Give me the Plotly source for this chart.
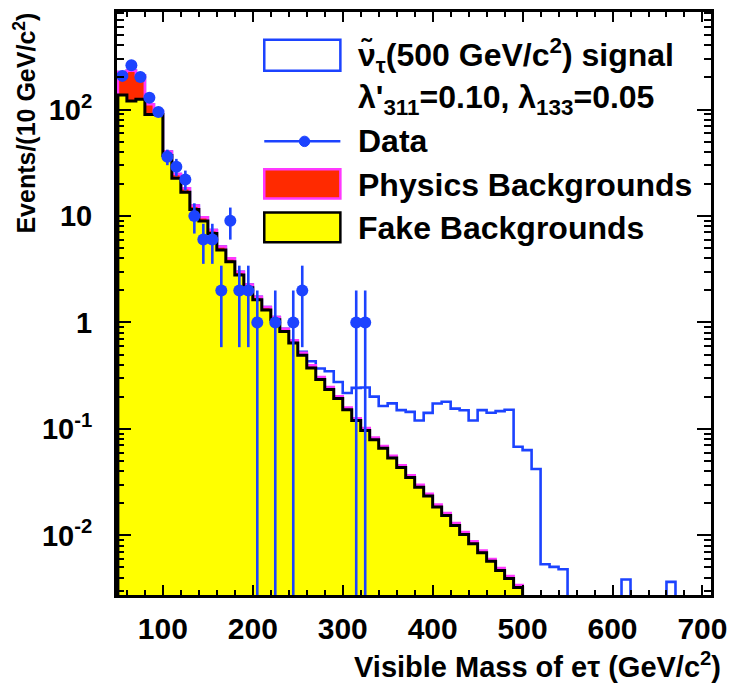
import plotly.graph_objects as go

# ---------------- data ----------------
bin_width = 10
bkg_lo = list(range(50, 500, 10))          # 45 bins, 50..500 GeV
fake_bkg = [137, 120, 125, 90, 90, 36.9, 22.6, 16.7, 11.5, 8.97,
            6.84, 4.79, 3.72, 2.79, 2.12, 1.63, 1.31, 1.06, 0.824, 0.640,
            0.492, 0.374, 0.291, 0.235, 0.193, 0.151, 0.120, 0.0968, 0.0789, 0.0659,
            0.0532, 0.0433, 0.0349, 0.0283, 0.0234, 0.0185, 0.0154, 0.0124, 0.0102, 0.00836,
            0.00686, 0.00571, 0.00468, 0.00394, 0.00324]
phys_bkg = [88, 112, 85, 22, 7, 3.5, 2.2, 1.5, 1.0, 0.75,
            0.55, 0.38, 0.28, 0.20, 0.15, 0.11, 0.085, 0.065, 0.050, 0.038,
            0.028, 0.021, 0.016, 0.012, 0.0098, 0.0077, 0.0061, 0.0049, 0.0040, 0.0033,
            0.0027, 0.0022, 0.0018, 0.0015, 0.0012, 0.00095, 0.00079, 0.00064, 0.00053, 0.00043,
            0.00035, 0.00029, 0.00024, 0.00020, 0.00017]
sig_lo = list(range(50, 700, 10))           # 65 bins, 50..700 GeV
signal = ([0] * 20 +                                                       # 50-240
          [0.01, 0.037, 0.062, 0.101, 0.073, 0.059, 0.117, 0.143, 0.118, 0.095,   # 250-340
           0.118, 0.1045, 0.108, 0.090, 0.117, 0.154, 0.164, 0.142, 0.139, 0.111,  # 350-440
           0.143, 0.136, 0.142, 0.147, 0.0645, 0.0632, 0.042, 0.00536, 0.00506, 0.00481,  # 450-540
           0, 0, 0, 0, 0, 0,                                                # 550-600
           0.00385,                                                         # 610
           0, 0, 0, 0,                                                      # 620-650
           0.00366,                                                         # 660
           0, 0, 0])                                                        # 670-690
data_x = [55, 65, 75, 85, 95, 105, 115, 125, 135, 145, 155, 165, 175, 185, 195,
          205, 225, 245, 255, 315, 325]
data_n = [207, 260, 202, 129, 95, 36, 29, 22, 10, 6, 6, 2, 9, 2, 2,
          1, 1, 1, 2, 1, 1]

x_ticks = [100, 200, 300, 400, 500, 600, 700]
y_ticks = [0.01, 0.1, 1, 10, 100]
y_ticktext = ["10<sup>-2</sup>", "10<sup>-1</sup>", "1", "10", "10<sup>2</sup>"]

legend_labels = ["\u03bd\u0303<sub>\u03c4</sub>(500 GeV/c<sup>2</sup>) signal",
                 "\u03bb'<sub>311</sub>=0.10, \u03bb<sub>133</sub>=0.05",
                 "Data", "Physics Backgrounds", "Fake Backgrounds"]

# ---------------- derived ----------------
FLOOR = 1e-6
total_bkg = [f + p for f, p in zip(fake_bkg, phys_bkg)]
stack_sig = [(total_bkg[i] if i < len(total_bkg) else 0) + s for i, s in enumerate(signal)]


def step(lo, vals):
    x = [lo[0]] + lo + [lo[-1] + bin_width, lo[-1] + bin_width]
    v = [max(a, FLOOR) for a in vals]
    y = [FLOOR] + v + [v[-1], FLOOR]
    return x, y


BLUE = "#1c43ff"
RED = "#ff2a00"
MAG = "#ff38ff"
YEL = "#ffff00"

fig = go.Figure()

sx, sy = step(sig_lo, stack_sig)
fig.add_trace(go.Scatter(x=sx, y=sy, mode="lines", line=dict(color=BLUE, width=2.6, shape="hv"),
                         hoverinfo="skip"))
tx, ty = step(bkg_lo, total_bkg)
fig.add_trace(go.Scatter(x=tx, y=ty, mode="lines", line=dict(color=MAG, width=2.6, shape="hv"),
                         fill="toself", fillcolor=RED, hoverinfo="skip"))
fx, fy = step(bkg_lo, fake_bkg)
fig.add_trace(go.Scatter(x=fx, y=fy, mode="lines", line=dict(color="black", width=3, shape="hv"),
                         fill="toself", fillcolor=YEL, hoverinfo="skip"))

# error bars (sqrt N)
ex, ey = [], []
for x, n in zip(data_x, data_n):
    e = n ** 0.5
    ex += [x, x, None]
    ey += [max(n - e, FLOOR), n + e, None]
fig.add_trace(go.Scatter(x=ex, y=ey, mode="lines", line=dict(color=BLUE, width=2.6),
                         hoverinfo="skip"))
fig.add_trace(go.Scatter(x=data_x, y=data_n, mode="markers",
                         marker=dict(color=BLUE, size=12, line=dict(width=0))))

FONT = "Liberation Sans, Arial, sans-serif"

fig.update_layout(
    width=736, height=684,
    margin=dict(l=117, r=18, t=9, b=89),
    paper_bgcolor="white", plot_bgcolor="white",
    showlegend=False,
    font=dict(family=FONT, color="black", size=28, weight="bold"),
)
fig.update_xaxes(range=[49, 709.5], showgrid=False, zeroline=False,
                 showline=True, linecolor="black", linewidth=3, mirror="ticks",
                 tickmode="array", tickvals=x_ticks, ticks="inside", ticklen=10, tickwidth=2,
                 tickcolor="black", ticklabelstandoff=5,
                 tickfont=dict(family=FONT, size=30, weight="bold"),
                 minor=dict(dtick=20, tick0=0, ticks="inside", ticklen=5, tickwidth=2,
                            tickcolor="black"))
minor_y = [m * 10 ** k for k in range(-3, 3) for m in range(2, 10)]
fig.update_yaxes(type="log", range=[-2.56, 2.916], showgrid=False, zeroline=False,
                 showline=True, linecolor="black", linewidth=3, mirror="ticks",
                 tickmode="array", tickvals=y_ticks, ticktext=y_ticktext,
                 ticks="inside", ticklen=14, tickwidth=2, tickcolor="black",
                 ticklabelstandoff=16,
                 tickfont=dict(family=FONT, size=29, weight="bold"),
                 minor=dict(tickvals=minor_y, ticks="inside", ticklen=7, tickwidth=2,
                            tickcolor="black"))


def px(p):
    return (p - 117) / 601


def py(p):
    return (595 - p) / 586


# legend (drawn by hand, ROOT style)
shapes = [
    dict(type="rect", xref="paper", yref="paper", x0=px(266), x1=px(343), y0=py(68), y1=py(37),
         line=dict(color=BLUE, width=2.5), fillcolor="white"),
    dict(type="line", xref="paper", yref="paper", x0=px(266), x1=px(343), y0=py(139), y1=py(139),
         line=dict(color=BLUE, width=2.5)),
    dict(type="circle", xref="paper", yref="paper", x0=px(301.5), x1=px(312), y0=py(144.3), y1=py(133.8),
         line=dict(color=BLUE, width=1), fillcolor=BLUE),
    dict(type="rect", xref="paper", yref="paper", x0=px(266), x1=px(343), y0=py(196.5), y1=py(167),
         line=dict(color=MAG, width=2.5), fillcolor=RED),
    dict(type="rect", xref="paper", yref="paper", x0=px(266), x1=px(343), y0=py(240.5), y1=py(210.5),
         line=dict(color="black", width=2.5), fillcolor=YEL),
]
ann = []
for lab, yc in zip(legend_labels, [53, 97, 139, 183, 226]):
    ann.append(dict(xref="paper", yref="paper", x=px(359), y=py(yc), xanchor="left", yanchor="middle",
                    text=lab, showarrow=False, font=dict(family=FONT, size=32, weight="bold")))
ann.append(dict(xref="paper", yref="paper", x=px(730), y=py(665), xanchor="right", yanchor="middle",
                text="Visible Mass of e\u03c4 (GeV/c<sup>2</sup>)", showarrow=False,
                font=dict(family=FONT, size=29, weight="bold")))
ann.append(dict(xref="paper", yref="paper", x=px(23), y=py(8), xanchor="center", yanchor="top",
                textangle=-90, text="Events/(10 GeV/c<sup>2</sup>)", showarrow=False,
                font=dict(family=FONT, size=25, weight="bold")))
fig.update_layout(shapes=shapes, annotations=ann)

fig.write_html("out.html")
